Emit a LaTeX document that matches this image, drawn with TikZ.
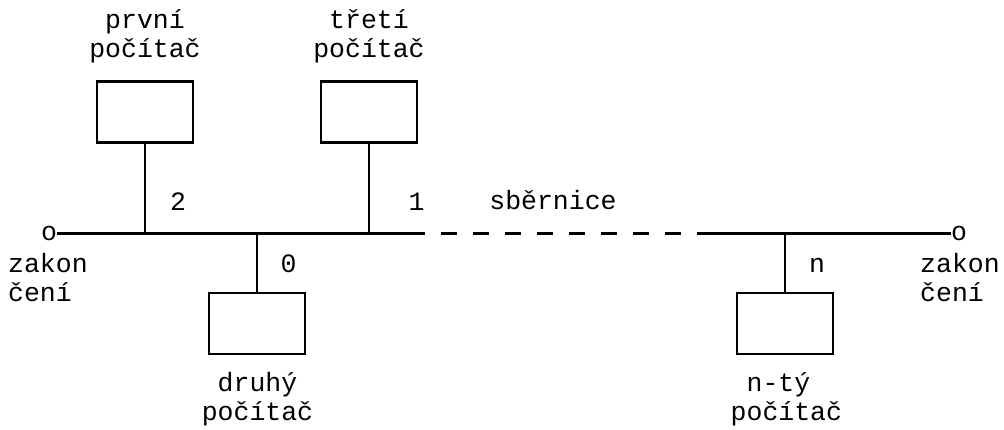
\documentclass[tikz,border=0pt]{standalone}
\usepackage{fontspec}
\setmonofont{Liberation Mono}
\begin{document}
\begin{tikzpicture}[x=1pt,y=-1pt,
  wire/.style={line width=2.3pt,line cap=butt},
  pc/.style={draw,line width=2.3pt,minimum width=96pt,minimum height=61pt,inner sep=0pt},
  lbl/.style={inner sep=0pt,font=\ttfamily\fontsize{26.5}{28.7}\selectfont}]
\useasboundingbox (0,0) rectangle (1004,430);

% computers
\node[pc] (pc1) at (145,112) {};
\node[pc] (pc3) at (369,112) {};
\node[pc] (pc2) at (257,323.5) {};
\node[pc] (pcn) at (785,323.5) {};

% terminators
\node[lbl,anchor=base] (termL) at (49,241) {o};
\node[lbl,anchor=base] (termR) at (959,241) {o};

% bus taps
\coordinate (t1) at (145,233.5);
\coordinate (t2) at (257,233.5);
\coordinate (t3) at (369,233.5);
\coordinate (dA) at (425,233.5);
\coordinate (dB) at (697,233.5);
\coordinate (tn) at (785,233.5);

% bus
\draw[wire] (termL.east |- t1) -- (t1) -- (t2) -- (t3) -- (dA);
\draw[wire,dash pattern=on 16pt off 16pt,dash phase=16pt] (dA) -- (dB);
\draw[wire] (dB) -- (tn) -- (termR.west |- tn);

% drops
\draw[wire] (pc1.south) -- (t1);
\draw[wire] (pc3.south) -- (t3);
\draw[wire] (t2) -- (pc2.north);
\draw[wire] (tn) -- (pcn.north);

% labels
\node[lbl,anchor=base] (l1) at (145,29) {\begin{tabular}[t]{@{}c@{}}první\\počítač\end{tabular}};
\node[lbl,anchor=base] (l3) at (369,29) {\begin{tabular}[t]{@{}c@{}}třetí\\počítač\end{tabular}};
\node[lbl,anchor=base] (l2) at (257.5,391.5) {\begin{tabular}[t]{@{}c@{}}druhý\\počítač\end{tabular}};
\node[lbl,anchor=base west] (ln) at (730.5,391.5) {\begin{tabular}[t]{@{}l@{}}\hphantom{p}n-tý\\počítač\end{tabular}};

\node[lbl,anchor=base] (n2) at (178,211) {2};
\node[lbl,anchor=base] (n1) at (416.5,211) {1};
\node[lbl,anchor=base] (bus) at (553,210) {sběrnice};
\node[lbl,anchor=base] (n0) at (288.5,273) {0};
\node[lbl,anchor=base] (nn) at (817,273) {n};

\node[lbl,anchor=base west] (zL) at (8,273) {\begin{tabular}[t]{@{}l@{}}zakon\\čení\end{tabular}};
\node[lbl,anchor=base west] (zR) at (920,273) {\begin{tabular}[t]{@{}l@{}}zakon\\čení\end{tabular}};
\end{tikzpicture}
\end{document}
